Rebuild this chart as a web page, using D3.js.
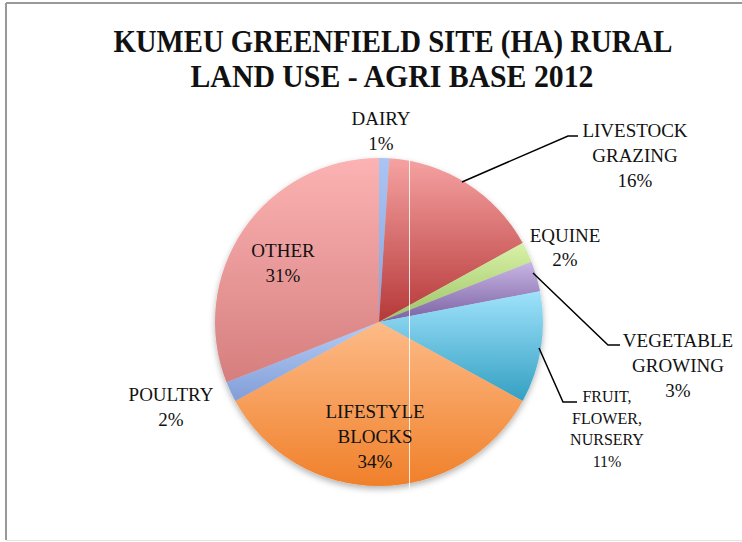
<!DOCTYPE html>
<html>
<head>
<meta charset="utf-8">
<script src="https://cdn.jsdelivr.net/npm/d3@7"></script>
<style>
  body { margin: 0; background: #fff; }
  text { font-family: "Liberation Serif", "DejaVu Serif", serif; fill: #111; }
</style>
</head>
<body>
<script>
// slices, clockwise from 12 o'clock
const categories = ["DAIRY", "LIVESTOCK GRAZING", "EQUINE", "VEGETABLE GROWING",
                    "FRUIT, FLOWER, NURSERY", "LIFESTYLE BLOCKS", "POULTRY", "OTHER"];
const values = [1, 16, 2, 3, 11, 34, 2, 31];
// label lines as shown on the chart
const labelLines = [["DAIRY"], ["LIVESTOCK", "GRAZING"], ["EQUINE"], ["VEGETABLE", "GROWING"],
                    ["FRUIT,", "FLOWER,", "NURSERY"], ["LIFESTYLE", "BLOCKS"], ["POULTRY"], ["OTHER"]];
// gradient top / bottom colours per slice
const colorsTop = ["#aac4f4", "#f6a2a2", "#d8f2a8", "#c8b6e4", "#9fe2fc", "#fdbb88", "#b4ccf4", "#fcb3b3"];
const colorsBottom = ["#86a4dc", "#b63838", "#9cc264", "#7a60a2", "#34a0c2", "#f0802a", "#829ed8", "#d67e7e"];

const width = 742, height = 542;
const cx = 379, cy = 322, radius = 164;

const svg = d3.select("body").append("svg")
    .attr("width", width)
    .attr("height", height);

const defs = svg.append("defs");
values.forEach(function (v, i) {
    const g = defs.append("linearGradient")
        .attr("id", "grad" + i)
        .attr("x1", 0).attr("y1", 0).attr("x2", 0).attr("y2", 1);
    g.append("stop").attr("offset", "0%").attr("stop-color", colorsTop[i]);
    g.append("stop").attr("offset", "100%").attr("stop-color", colorsBottom[i]);
});
defs.append("filter").attr("id", "shadow")
    .attr("x", "-20%").attr("y", "-20%").attr("width", "140%").attr("height", "140%")
    .append("feDropShadow")
    .attr("dx", 0).attr("dy", 3).attr("stdDeviation", 3)
    .attr("flood-color", "#000").attr("flood-opacity", 0.3);

// chart frame
svg.append("line").attr("x1", 6).attr("y1", 3).attr("x2", 6).attr("y2", 540)
    .attr("stroke", "#999").attr("stroke-width", 2);
svg.append("line").attr("x1", 6).attr("y1", 3).attr("x2", width).attr("y2", 3)
    .attr("stroke", "#999").attr("stroke-width", 2);
svg.append("line").attr("x1", 6).attr("y1", 540.5).attr("x2", width).attr("y2", 540.5)
    .attr("stroke", "#e4e4e4").attr("stroke-width", 1);

// title
const title = svg.append("text")
    .attr("text-anchor", "middle")
    .style("font-size", "32px")
    .style("font-weight", "bold");
title.append("tspan").attr("x", 393).attr("y", 52)
    .attr("textLength", 559).attr("lengthAdjust", "spacingAndGlyphs")
    .text("KUMEU GREENFIELD SITE (HA) RURAL");
title.append("tspan").attr("x", 392).attr("y", 87)
    .attr("textLength", 403).attr("lengthAdjust", "spacingAndGlyphs")
    .text("LAND USE - AGRI BASE 2012");

const pie = d3.pie().sort(null).value(function (d) { return d; });
const arc = d3.arc().innerRadius(0).outerRadius(radius);
const arcs = pie(values);

const pieG = svg.append("g")
    .attr("transform", "translate(" + cx + "," + cy + ")")
    .attr("filter", "url(#shadow)");

pieG.selectAll("path")
    .data(arcs)
    .enter()
    .append("path")
    .attr("d", arc)
    .attr("fill", function (d, i) { return "url(#grad" + i + ")"; });

// faint white streak seen in the reference
svg.append("line").attr("x1", 409.5).attr("y1", 160).attr("x2", 409.5).attr("y2", 490)
    .attr("stroke", "#fff").attr("stroke-opacity", 0.85).attr("stroke-width", 1);

// label positions (centre x, first baseline), font size, line height
const labelPos = [
    {x: 381, y: 125, size: 19, lh: 25},
    {x: 635, y: 137, size: 19, lh: 25},
    {x: 565, y: 242, size: 19, lh: 24},
    {x: 678, y: 347, size: 19, lh: 25},
    {x: 607, y: 402, size: 16, lh: 21.7},
    {x: 375, y: 418, size: 19, lh: 25},
    {x: 171, y: 401, size: 19, lh: 25},
    {x: 283, y: 257, size: 19, lh: 25}
];

// leader lines for labels placed outside the pie
const leaders = [
    null,
    [[462, 182], [568, 136], [578, 136]],
    null,
    [[533, 273], [608, 345], [620, 345]],
    [[539, 348], [563, 402], [577, 402]],
    null, null, null
];

const line = d3.line();
svg.selectAll("path.leader")
    .data(leaders.filter(function (d) { return d; }))
    .enter()
    .append("path")
    .attr("class", "leader")
    .attr("d", line)
    .attr("fill", "none")
    .attr("stroke", "#000")
    .attr("stroke-width", 1.5);

const total = d3.sum(values);
const labels = svg.selectAll("text.label")
    .data(arcs)
    .enter()
    .append("text")
    .attr("class", "label")
    .attr("text-anchor", "middle")
    .style("font-size", function (d, i) { return labelPos[i].size + "px"; });

labels.each(function (d, i) {
    const t = d3.select(this);
    const lines = labelLines[i].concat([Math.round(d.value / total * 100) + "%"]);
    lines.forEach(function (s, j) {
        t.append("tspan")
            .attr("x", labelPos[i].x)
            .attr("y", labelPos[i].y + j * labelPos[i].lh)
            .text(s);
    });
});
</script>
</body>
</html>
